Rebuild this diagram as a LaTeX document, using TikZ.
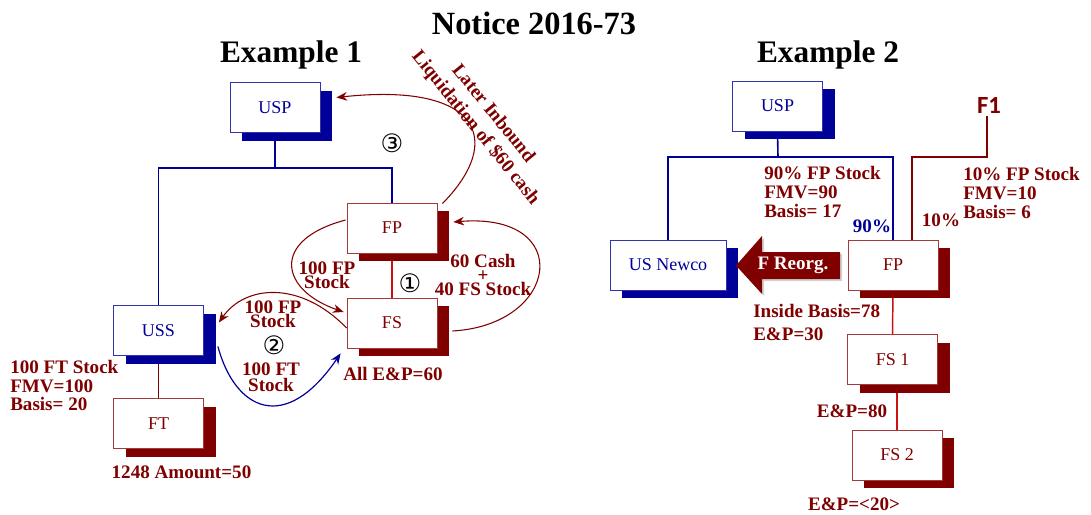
\documentclass[tikz,border=0pt]{standalone}
\usepackage{fontspec}
\setmainfont{Liberation Serif}
\newfontfamily\circfont{DejaVu Sans}
\newfontfamily\sansbold[BoldFont={Carlito Bold}]{Carlito}
\usetikzlibrary{shadows,backgrounds,arrows.meta}
\definecolor{maroon}{HTML}{800000}
\definecolor{navy}{HTML}{000099}
\definecolor{brick}{HTML}{A33A3A}
\definecolor{linkred}{HTML}{CC1111}

\begin{document}
\begin{tikzpicture}[x=0.75pt,y=-0.75pt,
  entity/.style={draw, fill=white, line width=0.6pt, minimum width=67.5pt,
    minimum height=37.5pt, inner sep=0pt, font=\fontsize{13.5}{14}\selectfont},
  usent/.style={entity, draw=navy!80, text=navy,
    drop shadow={shadow xshift=9pt, shadow yshift=-6pt, fill=navy, opacity=1}},
  frent/.style={entity, draw=brick, text=maroon,
    drop shadow={shadow xshift=9pt, shadow yshift=-6pt, fill=maroon, opacity=1}},
  navyline/.style={draw=navy, line width=1.2pt},
  maroonline/.style={draw=maroon, line width=1.1pt},
  redline/.style={draw=linkred, line width=1.1pt},
  flow/.style={draw=maroon, line width=0.8pt, -{Stealth[length=8pt,width=6.5pt]}},
  bflow/.style={draw=navy, line width=0.9pt, -{Stealth[length=8pt,width=6.5pt]}},
  lbl/.style={text=maroon, inner sep=0pt,
    font=\bfseries\fontsize{14.3}{13.9}\selectfont},
  tight/.style={lbl, align=center, font=\bfseries\fontsize{14.3}{10.8}\selectfont},
  title/.style={inner sep=0pt, font=\bfseries\fontsize{23.5}{26}\selectfont},
  circ/.style={inner sep=0pt, font=\circfont\fontsize{19}{19}\selectfont},
]
\useasboundingbox (0,0) rectangle (1091,514);
\begin{scope}[on background layer]
  \fill[white] (0,0) rectangle (1091,514);
\end{scope}

% headings
\node[title, font=\bfseries\fontsize{24.3}{26}\selectfont] (main) at (534,23) {Notice 2016-73};
\node[title] (ex1) at (291,55) {Example 1};
\node[title] (ex2) at (828,55) {Example 2};

% ---------------- Example 1 ----------------
\node[usent] (usp1) at (275,107.5) {USP};
\node[frent] (fp1) at (392,228) {FP};
\node[frent] (fs1) at (392,323) {FS};
\node[usent] (uss) at (158.5,330.5) {USS};
\node[frent] (ft) at (158.5,423.5) {FT};

\coordinate (bus1) at (275,168);
\begin{scope}[on background layer]
  \draw[navyline] (usp1.south) -- (bus1);
  \draw[navyline] (uss.north) |- (bus1) -| (fp1.north);
  \draw[redline] (fp1.south) -- (fs1.north);
  \draw[maroonline] (uss.south) -- (ft.north);
\end{scope}

\node[lbl, anchor=west, align=left] (ftinfo) at (10,385.5) {100 FT Stock\\FMV=100\\Basis= 20};
\node[lbl] (amt) at (181.5,472) {1248 Amount=50};
\node[lbl] (ep1) at (393,374) {All E\&P=60};

% step 1: FP stock down to FS, cash and FS stock up to FP
\draw[flow] ([shift={(-1,-8)}]fp1.west) .. controls (270,240) and (280,290) .. ([shift={(-3,-11)}]fs1.west);
\draw[flow] ([shift={(15,8)}]fs1.east) .. controls (560,325) and (575,212) .. ([shift={(16,-6)}]fp1.east);
\node[tight] (fpstk1) at (327,275) {100 FP\\Stock};
\node[tight] (cash) at (483,275) {60 Cash\\+\\40 FS Stock};
\node[circ] (s1) at (410,283) {①};

% step 2: exchange between FS and USS
\draw[flow] ([shift={(0,5)}]fs1.west) .. controls (300,280) and (245,285) .. ([shift={(15,-8)}]uss.east);
\draw[bflow] ([shift={(14,16)}]uss.east) .. controls (235,410) and (285,435) .. ([shift={(-6,5)}]fs1.south west);
\node[tight] (fpstk2) at (273,314) {100 FP\\Stock};
\node[circ] (s2) at (274,345) {②};
\node[tight, font=\bfseries\fontsize{14.3}{12}\selectfont] (ftstk) at (271,377) {100 FT\\Stock};

% step 3: liquidation into USP
\draw[flow] ([shift={(5,1)}]fp1.north east) .. controls (505,140) and (480,82) .. ([shift={(16,-10)}]usp1.east);
\node[circ] (s3) at (392,143) {③};
\node[lbl, align=center, rotate=-51, font=\bfseries\fontsize{14.3}{17}\selectfont] (liq) at (484,121)
  {Later Inbound\\Liquidation of \$60 cash};

% ---------------- Example 2 ----------------
\node[usent] (usp2) at (777.5,106) {USP};
\node[usent, minimum width=87pt] (newco) at (668,265) {US Newco};
\node[frent] (fp2) at (893,265) {FP};
\node[frent] (fs21) at (892.5,359.5) {FS 1};
\node[frent] (fs22) at (897,455) {FS 2};
\node[text=maroon, inner sep=2pt, font=\sansbold\bfseries\fontsize{18.5}{19}\selectfont] (f1) at (989,105) {F1};

\coordinate (bus2) at (778,157);
\coordinate (bus3) at (912,157);
\begin{scope}[on background layer]
  \draw[navyline] (usp2.south) -- (bus2);
  \draw[navyline] (newco.north) |- (bus2) -| (fp2.north);
  \draw[maroonline] ([xshift=-1.5pt]f1.south) |- (bus3) -- (bus3 |- fp2.north);
  \draw[redline] (fp2.south) -- (fs21.north);
  \draw[redline] (fs22.north) -- (fs22.north |- fs21.south);
\end{scope}

% F reorganization block arrow
\fill[black!35, opacity=0.5] (738,267.5) -- (764,238) -- (764,254) -- (842,254) -- (842,281)
  -- (764,281) -- (764,296) -- cycle;
\fill[maroon] (736,265.5) -- (762,236) -- (762,252) -- (840,252) -- (840,279)
  -- (762,279) -- (762,294) -- cycle;
\node[lbl, text=white] (freorg) at (793,265.5) {F Reorg.};

\node[lbl, anchor=west, align=left] (usinfo) at (764,192) {90\% FP Stock\\FMV=90\\Basis= 17};
\node[lbl, text=navy] (p90) at (872,226) {90\%};
\node[lbl] (p10) at (941,220) {10\%};
\node[lbl, anchor=west, align=left] (f1info) at (963,193) {10\% FP Stock\\FMV=10\\Basis= 6};
\node[lbl, anchor=west, align=left, font=\bfseries\fontsize{14.3}{17}\selectfont] (fpinfo) at (753,322.5)
  {Inside Basis=78\\E\&P=30};
\node[lbl] (ep80) at (852,411) {E\&P=80};
\node[lbl] (ep20) at (854,504) {E\&P=<20>};
\end{tikzpicture}
\end{document}
